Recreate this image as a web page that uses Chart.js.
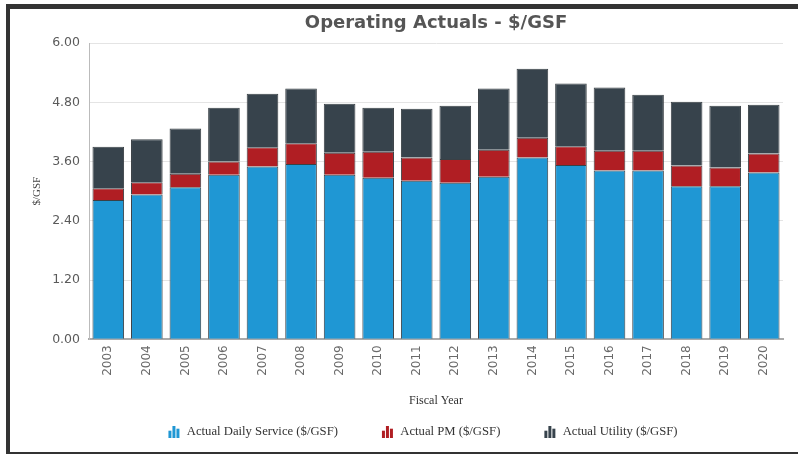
<!DOCTYPE html>
<html>
<head>
<meta charset="utf-8">
<script src="https://cdn.jsdelivr.net/npm/chart.js@4/dist/chart.umd.min.js"></script>
<style>
  html, body { margin: 0; padding: 0; background: #fff; overflow: hidden; }
  #wrap { position: absolute; left: 0; top: 0; width: 798px; height: 454px; }
  #frame { position: absolute; left: 6px; top: 4px; width: 820px; height: 452px; box-sizing: border-box;
           border-left: 4px solid #333; border-top: 5px solid #333; border-bottom: 4px solid #333; pointer-events: none; }
</style>
</head>
<body>
<div id="wrap"><canvas id="c" width="798" height="454"></canvas></div>
<div id="frame"></div>
<script>
const years = ['2003','2004','2005','2006','2007','2008','2009','2010','2011','2012','2013','2014','2015','2016','2017','2018','2019','2020'];
const dailyService = [2.82,2.93,3.08,3.33,3.50,3.55,3.33,3.27,3.21,3.17,3.29,3.68,3.53,3.42,3.42,3.10,3.10,3.38];
const pm = [0.24,0.25,0.27,0.27,0.39,0.42,0.45,0.53,0.47,0.48,0.55,0.40,0.38,0.40,0.40,0.42,0.38,0.38];
const utility = [0.84,0.87,0.92,1.09,1.08,1.11,0.99,0.89,0.99,1.08,1.24,1.40,1.27,1.28,1.13,1.29,1.25,0.99];
const yTickValues = [0, 1.2, 2.4, 3.6, 4.8, 6.0];
const seriesNames = ['Actual Daily Service ($/GSF)', 'Actual PM ($/GSF)', 'Actual Utility ($/GSF)'];
const seriesColors = ['#1f97d4', '#b01e23', '#37434c'];

const ICON_W = 46;
function makeIcon(color) {
  const cv = document.createElement('canvas');
  cv.width = ICON_W; cv.height = 12;
  const g = cv.getContext('2d');
  g.fillStyle = color;
  const x0 = ICON_W - 12;
  g.fillRect(x0 + 0, 5, 3, 7);
  g.fillRect(x0 + 4, 0, 3, 12);
  g.fillRect(x0 + 8, 3, 3, 9);
  return cv;
}

const ds = [dailyService, pm, utility].map((d, i) => ({
  label: seriesNames[i],
  data: d,
  backgroundColor: seriesColors[i],
  borderColor: '#3a4045',
  borderWidth: 1,
  barPercentage: 0.82,
  categoryPercentage: 1.0,
  pointStyle: makeIcon(seriesColors[i])
}));

new Chart(document.getElementById('c'), {
  type: 'bar',
  data: { labels: years, datasets: ds },
  options: {
    responsive: false,
    animation: false,
    events: [],
    layout: { padding: { left: 29, right: 15, top: 0, bottom: 6 } },
    plugins: {
      title: {
        display: true,
        text: 'Operating Actuals - $/GSF',
        fullSize: false,
        color: '#555',
        font: { family: 'DejaVu Sans', size: 18, weight: 'bold', lineHeight: 1.2 },
        padding: { top: 13, bottom: 8.4 }
      },
      legend: {
        position: 'bottom',
        labels: {
          usePointStyle: true,
          pointStyleWidth: ICON_W,
          padding: 10,
          color: '#333',
          font: { family: 'Liberation Serif', size: 12.7 }
        }
      },
      tooltip: { enabled: false }
    },
    scales: {
      x: {
        stacked: true,
        grid: { display: false, drawTicks: false },
        border: { color: '#aaa', width: 2 },
        ticks: { minRotation: 90, maxRotation: 90, padding: 6, color: '#6a6a6a', font: { family: 'DejaVu Sans', size: 12 } },
        title: { display: true, text: 'Fiscal Year', color: '#333', font: { family: 'Liberation Serif', size: 12 }, padding: { top: 4, bottom: 7 } },
        afterFit: s => { s.height = 76; }
      },
      y: {
        stacked: true,
        min: 0,
        max: 6,
        afterBuildTicks: s => { s.ticks = yTickValues.map(v => ({ value: v })); },
        grid: { color: '#e4e4e4', drawTicks: false },
        border: { color: '#bbb', width: 1 },
        ticks: { padding: 9, color: '#5a5a5a', font: { family: 'DejaVu Sans', size: 12.5 }, callback: v => Number(v).toFixed(2) },
        title: { display: true, text: '$/GSF', color: '#444', font: { family: 'Liberation Serif', size: 11 }, padding: { top: 2, bottom: 0 } },
        afterFit: s => { s.width = 60; }
      }
    }
  }
});
</script>
</body>
</html>
